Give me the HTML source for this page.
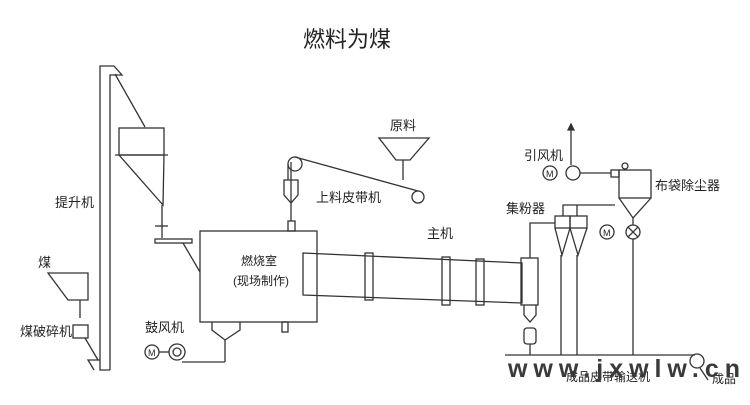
<!DOCTYPE html><html><head><meta charset="utf-8"><style>body{margin:0;background:#fff}svg{display:block}text{font-family:"Liberation Sans","Noto Sans CJK SC",sans-serif;fill:#222}</style></head><body>
<svg width="750" height="405" viewBox="0 0 750 405" xmlns="http://www.w3.org/2000/svg" fill="none" stroke="#333" stroke-width="1.3">
<text x="303" y="47" font-size="22" stroke="none">燃料为煤</text>
<!-- elevator -->
<polyline points="110,370 100,370 100,66 114,66 122,75 110,75 110,370"/>
<polyline points="100,360 88,360 94,370"/>
<line x1="115" y1="74" x2="145" y2="127"/>
<rect x="119" y="128" width="45" height="27"/>
<line x1="115" y1="155" x2="168" y2="155"/>
<polyline points="119,155 163,205 164,155"/>
<line x1="162" y1="205" x2="162" y2="238"/>
<line x1="155" y1="226" x2="168" y2="226"/>
<rect x="155" y="239" width="37" height="4"/>
<line x1="183" y1="243" x2="200" y2="272"/>
<text x="55" y="207" font-size="13" stroke="none">提升机</text>
<text x="38" y="267" font-size="13" stroke="none">煤</text>
<polygon points="48,273 88,273 88,300 68,300"/>
<line x1="80" y1="300" x2="80" y2="318"/>
<rect x="73" y="325" width="15" height="13"/>
<text x="20" y="336" font-size="13" stroke="none">煤破碎机</text>
<line x1="85" y1="338" x2="98" y2="360"/>
<!-- combustion chamber -->
<rect x="200" y="231" width="117" height="91"/>
<text x="241" y="265" font-size="12" stroke="none">燃烧室</text>
<text x="233" y="285" font-size="12" stroke="none">(现场制作)</text>
<polyline points="212,322 212,330 225,340 240,330 240,322"/>
<line x1="225" y1="340" x2="225" y2="362"/>
<rect x="282" y="322" width="6" height="10"/>
<text x="145" y="332" font-size="13" stroke="none">鼓风机</text>
<circle cx="152" cy="352" r="7"/><text x="148" y="356" font-size="9" stroke="none">M</text>
<line x1="159" y1="352" x2="169" y2="352"/>
<circle cx="177" cy="352" r="8"/><circle cx="177" cy="352" r="4"/>
<polyline points="182,362 225,362"/>
<!-- feed -->
<rect x="288" y="221" width="7" height="10"/>
<line x1="291" y1="162" x2="291" y2="221"/>
<path d="M284,180 h14 v15 l-7,8 l-7,-8 z"/>
<circle cx="295" cy="164" r="7"/>
<line x1="295" y1="157" x2="418" y2="191"/>
<line x1="288" y1="164" x2="288" y2="180"/>
<circle cx="418" cy="197" r="6"/>
<text x="316" y="202" font-size="13" stroke="none">上料皮带机</text>
<text x="390" y="130" font-size="13" stroke="none">原料</text>
<polygon points="379,138 429,138 410,160 396,160"/>
<line x1="403" y1="160" x2="403" y2="180"/>
<!-- kiln -->
<polygon points="303,253 522,263 522,303 303,295"/>
<rect x="365" y="253" width="8" height="47"/>
<rect x="442" y="257" width="8" height="48"/>
<rect x="476" y="259" width="8" height="46"/>
<text x="427" y="238" font-size="13" stroke="none">主机</text>
<rect x="521" y="258" width="17" height="47"/>
<polyline points="524,305 524,315 530,322 536,315 536,305"/>
<rect x="524" y="328" width="12" height="16" rx="3"/>
<line x1="530" y1="344" x2="530" y2="355"/>
<polyline points="530,258 530,223 555,223"/>
<!-- cyclones -->
<text x="506" y="213" font-size="13" stroke="none">集粉器</text>
<rect x="555" y="216" width="15" height="12"/><rect x="570" y="216" width="17" height="12"/>
<polyline points="555,228 562,255 570,228 578,255 587,228"/>
<polyline points="563,216 563,205 615,205"/>
<line x1="577" y1="216" x2="577" y2="205"/>
<line x1="561" y1="255" x2="561" y2="355"/><line x1="577" y1="255" x2="577" y2="355"/>
<!-- baghouse -->
<rect x="619" y="170" width="32" height="28"/>
<polyline points="619,198 633,218 651,198"/>
<rect x="611" y="170" width="8" height="7"/>
<circle cx="625" cy="166" r="3"/>
<text x="655" y="190" font-size="13" stroke="none">布袋除尘器</text>
<circle cx="607" cy="232" r="7"/><text x="603" y="236" font-size="9" stroke="none">M</text>
<circle cx="633" cy="232" r="7"/><path d="M628,227 l10,10 M638,227 l-10,10"/>
<line x1="633" y1="218" x2="633" y2="225"/><line x1="633" y1="239" x2="633" y2="355"/>
<text x="524" y="160" font-size="13" stroke="none">引风机</text>
<line x1="571" y1="125" x2="571" y2="165"/><path d="M568,130 l3,-6 l3,6z" fill="#333"/>
<circle cx="550" cy="173" r="7"/><text x="546" y="177" font-size="9" stroke="none">M</text>
<circle cx="573" cy="173" r="7"/>
<line x1="580" y1="173" x2="611" y2="173"/>
<!-- conveyor -->
<line x1="505" y1="355" x2="695" y2="355"/>
<circle cx="697" cy="361" r="7"/>
<line x1="700" y1="368" x2="708" y2="380"/>
<text x="566" y="381" font-size="12" stroke="none">成品皮带输送机</text>
<text x="712" y="383" font-size="12" stroke="none">成品</text>
<text x="508" y="377" font-size="25" font-weight="bold" stroke="none" style="fill:#3a3a3a" textLength="232" lengthAdjust="spacing">www.jxwlw.cn</text>
</svg></body></html>
